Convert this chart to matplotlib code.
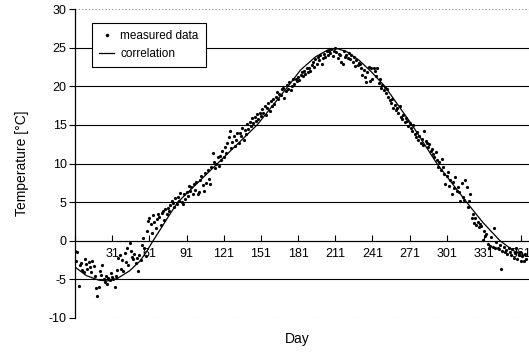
import matplotlib
matplotlib.use("Agg")
import matplotlib.pyplot as plt
import numpy as np

plt.rcParams['font.family'] = ['Liberation Sans', 'DejaVu Sans']
plt.rcParams['axes.unicode_minus'] = False

# daily mean temperature, day 1..365
measured = [
    -1.3, -2.6, -1.5, -5.8, -3.2, -2.9, -3.8, -4.1, -2.4, -3.0,
    -3.6, -2.8, -3.4, -4.0, -2.6, -3.3, -4.5, -6.1, -7.1, -6.0,
    -3.9, -4.4, -3.1, -4.9, -5.3, -4.6, -5.6, -4.8, -5.1, -4.2,
    -4.7, -5.0, -6.0, -4.5, -3.8, -2.2, -1.9, -3.7, -2.5, -3.9,
    -1.6, -2.7, -1.0, -3.2, -0.3, -1.3, -2.1, -2.4, -1.7, -2.9,
    -2.2, -3.9, -1.8, -2.5, -0.6, 0.4, -0.9, -2.0, 1.2, 2.6,
    3.0, 2.2, 1.0, 3.3, 2.4, 1.7, 2.8, 3.5, 3.1, 2.0,
    3.6, 3.9, 2.7, 4.1, 3.4, 4.3, 3.8, 4.6, 5.2, 4.9,
    4.4, 5.5, 4.8, 5.6, 5.1, 6.2, 5.0, 4.7, 6.0, 5.4,
    6.3, 5.8, 7.1, 6.5, 6.9, 6.0, 7.4, 6.6, 7.6, 6.1,
    6.3, 7.9, 8.4, 7.2, 6.5, 8.8, 7.5, 9.2, 8.0, 7.4,
    9.6, 11.3, 10.2, 9.4, 10.0, 10.8, 9.7, 11.0, 10.4, 11.6,
    10.9, 12.1, 11.4, 12.6, 13.4, 14.2, 12.0, 12.8, 13.6, 12.3,
    13.1, 13.9, 12.7, 14.0, 13.5, 14.6, 13.0, 14.3, 13.8, 15.1,
    14.5, 15.4, 14.8, 15.9, 15.2, 16.0, 15.5, 16.4, 15.8, 16.6,
    16.1, 17.0, 16.5, 17.4, 16.3, 17.2, 17.8, 16.8, 18.1, 17.5,
    18.3, 17.7, 18.6, 19.2, 18.4, 19.0, 18.9, 19.6, 19.8, 18.5,
    19.4, 20.2, 19.7, 20.5, 19.5, 20.0, 20.9, 20.3, 21.0, 20.7,
    21.2, 20.8, 21.5, 21.9, 21.3, 22.0, 21.6, 22.3, 21.8, 22.4,
    22.0, 22.7, 23.2, 22.5, 23.5, 22.9, 23.8, 23.4, 24.1, 22.9,
    23.6, 24.2, 23.8, 24.5, 24.0, 24.6, 24.3, 24.8, 23.9, 24.5,
    24.9, 24.4, 23.6, 24.2, 24.0, 23.1, 22.9, 24.6, 23.8, 24.1,
    23.7, 24.3, 23.5, 24.0, 23.2, 23.8, 22.6, 23.4, 22.8, 23.0,
    22.9, 22.4, 21.5, 22.1, 21.2, 20.6, 21.8, 22.5, 20.7, 22.3,
    21.0, 22.4, 22.0, 21.3, 22.3, 20.4, 20.9, 19.8, 20.2, 19.5,
    19.9, 19.1, 19.7, 18.6, 18.2, 17.8, 18.4, 17.2, 17.6, 16.9,
    17.2, 16.5, 17.5, 16.0, 15.8, 16.3, 15.4, 15.9, 15.5, 14.8,
    15.2, 14.6, 14.2, 15.0, 13.8, 13.4, 14.1, 13.0, 13.6, 12.7,
    13.2, 12.4, 14.2, 12.9, 12.7, 12.1, 12.5, 11.6, 11.9, 11.2,
    10.8, 11.5, 10.5, 9.6, 10.2, 9.2, 10.6, 9.5, 8.7, 7.4,
    8.4, 8.9, 7.1, 7.9, 6.1, 7.6, 6.8, 8.2, 6.4, 7.0,
    6.3, 5.2, 7.5, 5.6, 5.3, 7.8, 6.9, 4.4, 5.1, 6.1,
    3.0, 3.5, 2.3, 2.9, 2.1, 2.4, 1.8, 2.2, 1.9, 0.1,
    1.2, 0.6, 0.9, -0.4, -0.9, -0.7, 0.5, -0.8, 1.7, -1.0,
    -0.2, -0.9, -1.1, -0.5, -3.6, -1.3, -0.8, -1.5, -1.2, -1.7,
    -0.9, -1.4, -1.9, -1.1, -2.2, -1.6, -1.0, -2.4, -1.8, -1.5,
    -2.6, -2.0, -2.6, -1.7, -2.3,
]
days = np.arange(1, len(measured) + 1)

# fitted correlation curve
corr_days = [1, 10, 20, 27, 35, 45, 53, 58, 64, 70, 77, 84, 100, 116, 132,
             148, 160, 173, 183, 195, 205, 212, 220, 230, 240, 251, 262,
             273, 283, 293, 305, 317, 330, 344, 355, 365]
corr_temp = [-3.4, -4.5, -5.1, -5.2, -4.9, -3.9, -2.7, -1.6, 0.0, 1.5, 3.3,
             5.0, 7.5, 10.0, 12.5, 15.0, 17.4, 20.0, 22.1, 23.8, 24.7, 24.9,
             24.5, 23.4, 21.9, 20.0, 17.5, 15.0, 12.5, 10.0, 7.5, 5.0, 2.4,
             0.0, -1.3, -2.0]

xticks = [1, 31, 61, 91, 121, 151, 181, 211, 241, 271, 301, 331, 361]
xlabels = [''] + [str(d) for d in xticks[1:]]
yticks = [-10, -5, 0, 5, 10, 15, 20, 25, 30]

fig = plt.figure(figsize=(5.29, 3.52), dpi=100)
ax = fig.add_axes([0.1418, 0.0966, 0.8582, 0.8778])

for y in [-5, 0, 5, 10, 15, 20, 25]:
    ax.axhline(y, color='black', lw=0.8, zorder=1)
for y in [-10, 30]:
    ax.axhline(y, color='#888888', lw=0.8, ls=(0, (1, 2)), zorder=1)

ax.plot(days, measured, 'o', color='black', ms=2.3, mew=0,
        label='measured data', zorder=3)
ax.plot(corr_days, corr_temp, '-', color='black', lw=0.9,
        label='correlation', zorder=2)

ax.set_xlim(1, 367.4)
ax.set_ylim(-10, 30)

ax.spines['top'].set_visible(False)
ax.spines['right'].set_visible(False)
ax.spines['left'].set_linewidth(0.9)
ax.spines['bottom'].set_position(('data', 0))
ax.spines['bottom'].set_linewidth(0.8)

ax.set_xticks(xticks)
ax.set_xticklabels(xlabels)
ax.set_yticks(yticks)
ax.tick_params(axis='x', direction='in', length=4, width=0.8, labelsize=9, pad=5)
ax.tick_params(axis='y', direction='out', length=4, width=0.8, labelsize=9, pad=2)

ax.set_ylabel('Temperature [°C]', fontsize=10, labelpad=14)
fig.text(297 / 529, 1 - 339 / 352, 'Day', fontsize=10, ha='center', va='center')

leg = ax.legend(loc='upper left', bbox_to_anchor=(92 / 529, 1 - 23 / 352),
                bbox_transform=fig.transFigure, fontsize=8.5, frameon=True,
                fancybox=False, edgecolor='black', framealpha=1,
                handlelength=1.3, handletextpad=0.5, borderpad=0.6,
                labelspacing=0.5, markerscale=1.1, borderaxespad=0)
leg.get_frame().set_linewidth(0.8)

fig.savefig('out.png', dpi=100)
